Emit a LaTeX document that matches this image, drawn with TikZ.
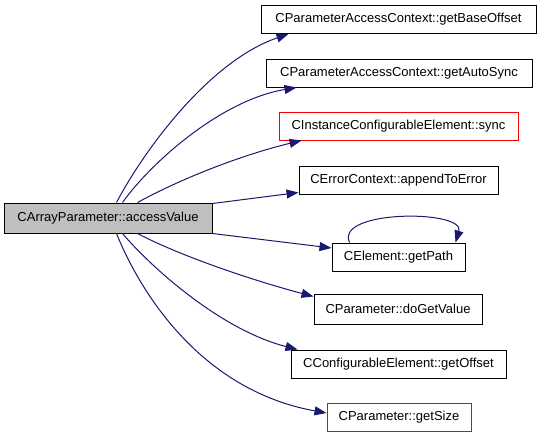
\documentclass[tikz,border=0pt]{standalone}
\usepackage{fontspec}
\setmainfont{Liberation Sans}
\usepackage{tikz}
\usepackage{xcolor}
\usetikzlibrary{arrows.meta}
\definecolor{edgeblue}{HTML}{191970}
\definecolor{boxgray}{HTML}{BFBFBF}

\tikzset{
    fn/.style={draw=black, line width=1pt, inner sep=0pt, minimum height=28pt,
        font=\fontsize{13}{15}\selectfont},
    fnred/.style={fn, draw=red},
    call/.style={draw=edgeblue, line width=1pt,
        -{Triangle[length=12pt,width=9pt]}}
}

\begin{document}
\begin{tikzpicture}[x=1pt,y=-1pt]
        \useasboundingbox (0,0) rectangle (541,437);

        \node[fn, fill=boxgray, minimum width=208pt, minimum height=30pt] (cav) at (108,218) {CArrayParameter::accessValue};

        \node[fn, minimum width=275pt] (baseoff) at (398.5,19.5) {CParameterAccessContext::getBaseOffset};
        \node[fn, minimum width=266pt] (autosync) at (399,73) {CParameterAccessContext::getAutoSync};
        \node[fnred, minimum width=239pt] (sync) at (398.5,126) {CInstanceConfigurableElement::sync};
        \node[fn, minimum width=199pt] (append) at (398.5,180) {CErrorContext::appendToError};
        \node[fn, minimum width=133pt] (getpath) at (398.5,257) {CElement::getPath};
        \node[fn, minimum width=168pt, minimum height=30pt] (dogetval) at (398,309) {CParameter::doGetValue};
        \node[fn, minimum width=215pt] (getoff) at (398.5,364) {CConfigurableElement::getOffset};
        \node[fnred, minimum width=144pt] (getsize) at (399,417) {CParameter::getSize};

        \draw[call] ([xshift=113pt]cav.north west) .. controls +(28,-53) and +(-79,27) .. ([xshift=28pt]baseoff.south west);
        \draw[call] ([xshift=119pt]cav.north west) .. controls +(27,-38) and +(-77,13) .. ([xshift=31pt]autosync.south west);
        \draw[call] ([xshift=134pt]cav.north west) .. controls +(42,-23) and +(-62,15) .. ([xshift=23pt]sync.south west);
        \draw[call] ([yshift=-1pt]cav.north east) -- ([yshift=2pt]append.south west);
        \draw[call] (cav.south east) -- ([yshift=9pt]getpath.west);
        \draw[call] ([xshift=18pt]getpath.north west) .. controls +(-15,-33) and +(10,-33) .. ([xshift=-10pt]getpath.north east);
        \draw[call] ([xshift=134pt]cav.south west) .. controls +(42,22) and +(-64,-17) .. ([yshift=-3pt]dogetval.north west);
        \draw[call] ([xshift=119pt]cav.south west) .. controls +(27,32) and +(-78,-20) .. ([xshift=7pt]getoff.north west);
        \draw[call] ([xshift=113pt]cav.south west) .. controls +(23,57) and +(-127,-23) .. ([yshift=4pt]getsize.west);
    \end{tikzpicture}
\end{document}
